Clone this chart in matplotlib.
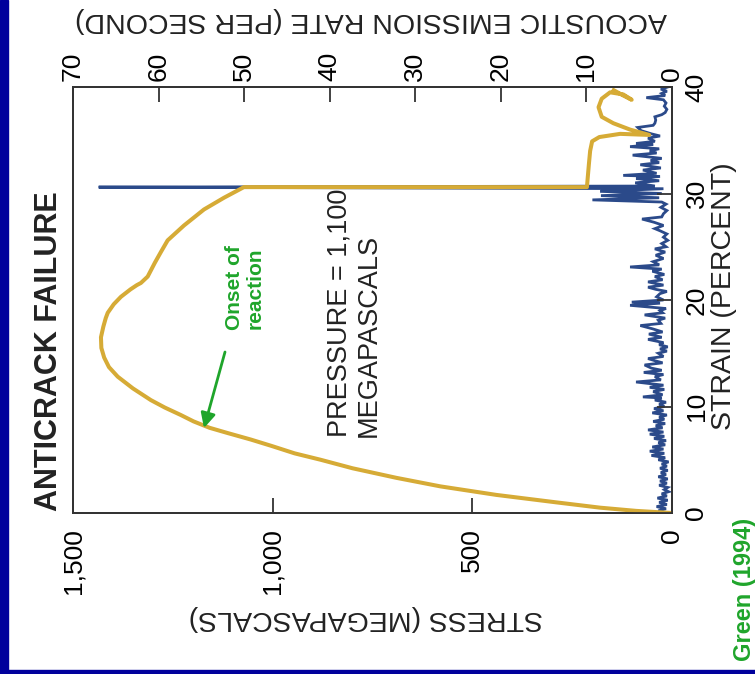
import matplotlib
matplotlib.use("Agg")
import matplotlib.pyplot as plt
from matplotlib.patches import Rectangle

# ---------------- data ----------------
# Stress-strain curve (gold)
stress_strain = [0, 0.2, 0.5, 1.0, 1.7, 2.5, 3.3, 4.2, 5.0, 5.6, 6.3, 6.9, 7.5, 8.0, 8.6,
                 9.2, 9.9, 10.6, 11.7, 12.8, 13.7, 14.6, 15.5, 16.5, 17.5, 18.3, 18.8,
                 19.6, 20.3, 21.0, 21.4, 21.6, 22.2, 23.5, 24.5, 25.6, 27.0, 28.5, 29.6,
                 30.6, 30.6, 31.5, 32.8, 34.0, 34.9, 35.3, 35.6, 35.5, 36.0, 36.6, 37.2,
                 38.1, 38.9, 39.5, 39.3, 38.8, 39.2, 39.7]
stress_mpa = [0, 90, 180, 290, 440, 580, 690, 800, 880, 945, 1003, 1055, 1112, 1158, 1198,
              1230, 1270, 1305, 1350, 1388, 1410, 1422, 1429, 1430, 1424, 1418, 1413,
              1398, 1380, 1356, 1340, 1330, 1313, 1295, 1280, 1263, 1222, 1172, 1122,
              1072, 213, 211, 208, 205, 200, 182, 130, 57, 105, 147, 176,
              184, 176, 155, 122, 101, 122, 146]

# Acoustic emission rate (blue)
ae_strain = [0.0, 0.2, 0.4, 0.6, 0.8, 1.0, 1.2, 1.4, 1.6, 1.8, 2.0, 2.2, 2.4, 2.6, 2.8,
             3.0, 3.2, 3.4, 3.6, 3.8, 4.0, 4.2, 4.4, 4.6, 4.8, 5.0, 5.2, 5.4, 5.6, 5.8,
             6.0, 6.2, 6.4, 6.6, 6.8, 7.0, 7.2, 7.4, 7.6, 7.8, 8.0, 8.2, 8.4, 8.6, 8.8,
             9.0, 9.2, 9.4, 9.6, 9.8, 10.0, 10.2, 10.4, 10.6, 10.8, 10.9, 11.1, 11.4,
             11.6, 11.8, 12.0, 12.3, 12.5, 12.8, 13.0, 13.2, 13.4, 13.6, 13.9, 14.1,
             14.3, 14.5, 14.7, 15.0, 15.2, 15.4, 15.6, 15.8, 16.0, 16.3, 16.5, 16.8,
             17.0, 17.3, 17.6, 17.8, 18.1, 18.3, 18.6, 18.8, 19.0, 19.2, 19.5, 19.7,
             19.8, 20.0, 20.3, 20.6, 20.8, 21.0, 21.2, 21.4, 21.7, 21.9, 22.2, 22.4,
             22.7, 22.9, 23.1, 23.3, 23.6, 23.9, 24.2, 24.5, 24.8, 25.0, 25.3, 25.6,
             25.9, 26.2, 26.5, 26.7, 27.0, 27.3, 27.6, 27.8, 28.1, 28.4, 28.7, 29.0,
             29.2, 29.4, 29.6, 29.8, 30.0, 30.2, 30.45, 30.6, 30.7, 31.0, 31.2, 31.4,
             31.6, 31.7, 31.9, 32.2, 32.4, 32.7, 32.9, 33.1, 33.3, 33.6, 33.8, 34.0,
             34.2, 34.4, 34.6, 34.7, 34.9, 35.2, 35.4, 35.6, 35.9, 36.2, 36.4, 36.6,
             36.9, 37.2, 37.4, 37.6, 37.9, 38.2, 38.5, 38.8, 39.0, 39.2, 39.4, 39.6,
             39.8, 40.0]
ae_rate = [0.8, 1.6, 0.7, 1.8, 0.6, 1.5, 0.5, 1.7, 0.6, 1.2, 0.4, 0.9, 0.5, 1.5, 0.6,
           1.4, 0.5, 1.6, 0.7, 1.3, 0.5, 1.4, 0.6, 1.2, 0.4, 1.6, 0.8, 2.4, 0.9, 2.6,
           1.0, 2.3, 0.8, 1.6, 0.7, 2.1, 0.9, 2.6, 1.0, 2.8, 1.1, 1.9, 0.8, 2.2, 0.9,
           1.5, 0.6, 2.3, 1.0, 2.1, 0.9, 1.5, 0.7, 2.0, 1.2, 3.4, 1.1, 2.2,
           0.9, 2.6, 1.0, 4.2, 1.3, 2.0, 1.0, 3.3, 1.2, 2.4, 3.2, 1.1,
           2.0, 2.8, 1.0, 1.6, 0.6, 1.4, 0.5, 1.5, 1.0, 2.8, 1.2, 2.7,
           1.1, 2.3, 3.7, 1.3, 1.6, 0.8, 3.2, 1.1, 1.4, 0.7, 4.9, 1.4,
           4.7, 1.0, 1.8, 1.4, 0.6, 1.9, 2.8, 1.0, 2.8, 1.1, 2.0, 0.9,
           2.3, 1.2, 4.9, 1.5, 2.2, 1.0, 1.9, 0.8, 2.0, 0.7, 1.2, 0.5,
           1.0, 0.6, 1.4, 2.0, 1.0, 2.1, 3.5, 1.2, 1.0, 0.6, 1.3, 0.7,
           1.2, 9.3, 1.5, 8.3, 1.2, 8.4, 1.0, 67.0, 2.0, 4.3, 1.5, 4.2,
           1.4, 5.7, 1.8, 3.4, 1.3, 3.7, 1.5, 2.5, 1.2, 4.6, 1.8, 2.6,
           1.5, 4.9, 2.2, 4.2, 2.0, 2.8, 1.4, 2.4, 3.6, 4.0, 2.2, 2.0,
           1.9, 2.0, 1.2, 0.8, 0.6, 0.9, 0.7, 1.0, 3.0, 0.8, 1.2, 0.6,
           1.3, 0.5]

stress_ticks = [0, 500, 1000, 1500]
stress_ticklabels = ["0", "500", "1,000", "1,500"]
rate_ticks = [0, 10, 20, 30, 40, 50, 60, 70]
strain_ticks = [0, 10, 20, 30, 40]

# ---------------- style ----------------
W, H = 755, 674
GOLD = "#d6ab36"
BLUE = "#2b4a8a"
GREEN = "#1fa52b"
NAVY = "#00009c"
AXC = "#333333"
FONT = "Liberation Sans"
plt.rcParams["font.family"] = [FONT, "DejaVu Sans"]

fig = plt.figure(figsize=(W / 100, H / 100), dpi=100)
fig.patch.set_facecolor("white")

def fx(px):
    return px / W

def fy(py):
    return 1 - py / H

# blue frame
fig.patches.append(Rectangle((0, 0), fx(8), 1, transform=fig.transFigure,
                             color=NAVY, zorder=0))
fig.patches.append(Rectangle((0, 0), 1, 4.5 / H, transform=fig.transFigure,
                             color=NAVY, zorder=0))

left, right, top, bottom = 73, 672, 87, 513
ax = fig.add_axes([fx(left), fy(bottom), (right - left) / W, (bottom - top) / H])
ax2 = ax.twiny()
ax.set_zorder(ax2.get_zorder() + 1)
ax.patch.set_visible(False)

# blue acoustic emission on the top axis scale
ax2.plot(ae_rate, ae_strain, color=BLUE, lw=2.0, solid_joinstyle="miter")
ax2.set_xlim(70, 0)
ax2.set_xticks(rate_ticks)
ax2.set_xticklabels([str(t) for t in rate_ticks])
ax2.tick_params(axis="x", top=True, bottom=False, direction="in", length=11,
                width=1.3, color=AXC, labelrotation=90, pad=4, labelsize=19)

# gold stress curve on bottom axis scale
ax.plot(stress_mpa, stress_strain, color=GOLD, lw=2.9, solid_joinstyle="round")
ax.set_xlim(1500, 0)
ax.set_ylim(0, 40)
ax.set_xticks(stress_ticks)
ax.set_xticklabels(stress_ticklabels)
ax.tick_params(axis="x", bottom=True, top=False, direction="in", length=11,
               width=1.3, color=AXC, labelrotation=90, pad=11, labelsize=19)
ax.set_yticks(strain_ticks)
ax.set_yticklabels([str(t) for t in strain_ticks])
ax.tick_params(axis="y", left=False, right=True, labelleft=False, labelright=True,
               direction="in", length=11, width=1.3, color=AXC,
               labelrotation=90, pad=9, labelsize=19)
for lbl in ax.get_yticklabels():
    lbl.set_va("center")

for a in (ax, ax2):
    for s in a.spines.values():
        s.set_color(AXC)
        s.set_linewidth(1.3)

# axis titles
fig.text(fx(371), fy(20), "ACOUSTIC EMISSION RATE (PER SECOND)", rotation=180,
         ha="center", va="center", fontsize=20.5, color="#222222")
fig.text(fx(366), fy(618), "STRESS (MEGAPASCALS)", rotation=180,
         ha="center", va="center", fontsize=20.5, color="#222222")
fig.text(fx(724), fy(296), "STRAIN (PERCENT)", rotation=90,
         ha="center", va="center", fontsize=20.5, color="#222222")

# chart title
fig.text(fx(49), fy(511), "ANTICRACK FAILURE", rotation=90, ha="center",
         va="bottom", fontsize=22, fontweight="bold", color="#222222")

# annotations
fig.text(fx(354), fy(437), "PRESSURE = 1,100\nMEGAPASCALS", rotation=90,
         ha="center", va="bottom", multialignment="left", fontsize=19.5,
         color="#222222", linespacing=1.15)
fig.text(fx(245), fy(288), "Onset of\nreaction", rotation=90, ha="center",
         va="center", multialignment="center", fontsize=15, fontweight="bold",
         color=GREEN, linespacing=1.1)
ax.annotate("", xy=(fx(204), fy(428)), xycoords="figure fraction",
            xytext=(fx(225), fy(352)), textcoords="figure fraction",
            arrowprops=dict(arrowstyle="-|>", color=GREEN, lw=2,
                            mutation_scale=22, shrinkA=0, shrinkB=0))
fig.text(fx(744), fy(661), "Green (1994)", rotation=90, ha="center", va="bottom",
         fontsize=17, fontweight="bold", color=GREEN)

fig.savefig("out.png", dpi=100, facecolor="white")
